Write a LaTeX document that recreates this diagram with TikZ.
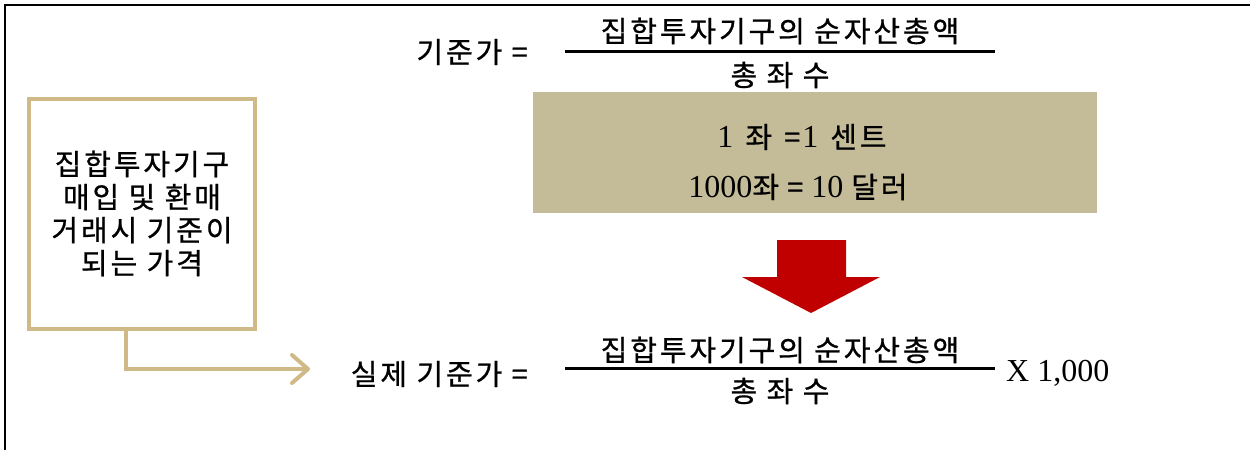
\documentclass[tikz,border=0pt]{standalone}
\usepackage{fontspec}
\setmainfont{Liberation Serif}
\newfontfamily\kr[LetterSpace=10,FakeBold=0.8]{Noto Sans CJK KR}
\usetikzlibrary{arrows.meta}
\definecolor{tanbox}{HTML}{C4BC98}
\definecolor{beige}{HTML}{CFB987}
\definecolor{redarrow}{HTML}{C00000}
\newcommand{\krs}[1]{{\kr\fontsize{29}{33}\selectfont #1}}
\begin{document}
\begin{tikzpicture}[x=1pt,y=-1pt,
  kt/.style={font=\kr\fontsize{29}{33}\selectfont, inner sep=0pt},
  lt/.style={font=\fontsize{32}{36}\selectfont, inner sep=0pt},
  fracline/.style={line width=3pt},
  conn/.style={draw=beige, line width=4pt, -{Straight Barb[length=16pt,width=28pt,round]}}]
\useasboundingbox (0,0) rectangle (1250,450);
\draw[line width=2.5pt] (5,450) -- (5,5) -- (1250,5);
% top formula
\node[kt, anchor=east] (lbl1) at (528,52) {기준가 =};
\draw[fracline] (565,51) -- (995,51);
\node[kt] (num1) at (780,31) {집합투자기구의 순자산총액};
\node[kt] (den1) at (780,75) {총 좌 수};
% tan box
\node[fill=tanbox, minimum width=564pt, minimum height=121pt, inner sep=0pt, anchor=north west] (tbox) at (533,92) {};
\node[lt] (t1) at (802,137) {1\hspace{12pt}\krs{좌}\hspace{12pt}\krs{=}\hspace{2pt}1\hspace{12pt}\krs{센트}};
\node[lt] (t2) at (798,187) {1000\krs{좌} \krs{=} 10 \krs{달러}};
% red arrow
\fill[redarrow] (777,240) -- (846,240) -- (846,277) -- (880,277) -- (811,313) -- (742,277) -- (777,277) -- cycle;
% left box
\node[draw=beige, line width=4pt, minimum width=226pt, minimum height=230pt, inner sep=0pt, align=center, kt] (lbox) at (142,213.5) {집합투자기구\\매입 및 환매\\거래시 기준이\\되는 가격};
\coordinate (ae) at (310,369);
\draw[conn] ([xshift=-16pt]lbox.south) |- (ae);
% bottom formula
\node[kt, anchor=east] (lbl2) at (528,374) {실제 기준가 =};
\draw[fracline] (565,368) -- (995,368);
\node[kt] (num2) at (780,350) {집합투자기구의 순자산총액};
\node[kt] (den2) at (780,391) {총 좌 수};
\node[lt, anchor=west] (mult) at (1006,373) {X 1,000};
\end{tikzpicture}
\end{document}
